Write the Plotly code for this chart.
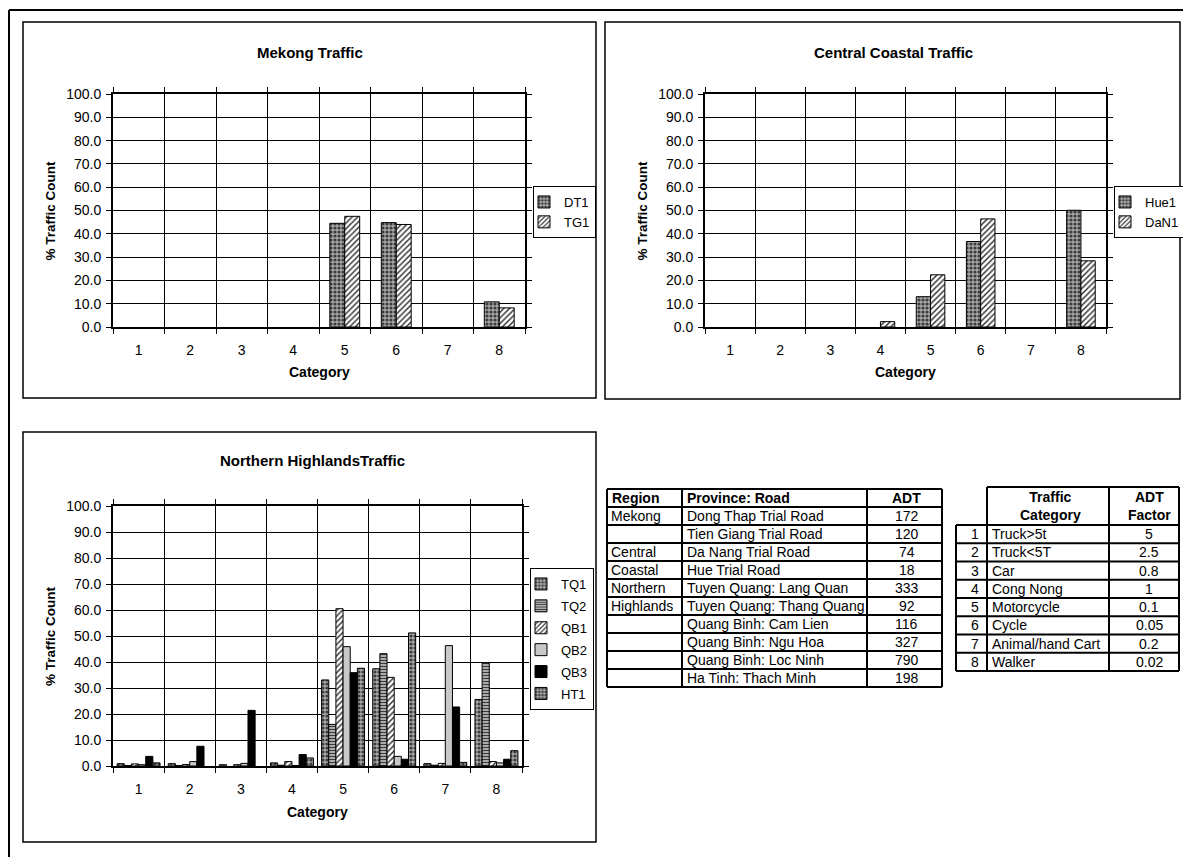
import plotly.graph_objects as go

# page has an 8px body margin; figure is sized/offset so page pixels map 1:1
OFF = 8
W, H = 1191 - OFF, 857 - OFF
FONT = "Liberation Sans, Arial, sans-serif"

# ---------------- data ----------------
categories = ["1", "2", "3", "4", "5", "6", "7", "8"]

mekong_names = ["DT1", "TG1"]
mekong_dt1 = [0, 0, 0, 0, 44.5, 44.8, 0, 10.8]
mekong_tg1 = [0, 0, 0, 0, 47.5, 44.0, 0, 8.2]

central_names = ["Hue1", "DaN1"]
central_hue1 = [0, 0, 0, 0, 13.0, 36.7, 0, 50.1]
central_dan1 = [0, 0, 0, 2.3, 22.4, 46.4, 0, 28.4]

north_names = ["TQ1", "TQ2", "QB1", "QB2", "QB3", "HT1"]
north_tq1 = [0.9, 0.9, 0.5, 1.2, 33.1, 37.4, 0.9, 25.6]
north_tq2 = [0.2, 0.2, 0.0, 0.3, 16.0, 43.2, 0.3, 39.7]
north_qb1 = [0.8, 0.6, 0.5, 1.7, 60.5, 34.1, 1.0, 1.7]
north_qb2 = [0.5, 1.7, 1.0, 0.2, 45.9, 3.7, 46.3, 1.2]
north_qb3 = [3.7, 7.6, 21.4, 4.4, 35.9, 2.6, 22.7, 2.6]
north_ht1 = [1.2, 0.0, 0.0, 3.1, 37.6, 51.2, 1.4, 5.9]

chart_titles = ["Mekong Traffic", "Central Coastal Traffic", "Northern HighlandsTraffic"]
y_title = "% Traffic Count"
x_title = "Category"

road_header = ["Region", "Province: Road", "ADT"]
road_region = ["Mekong", "", "Central", "Coastal", "Northern", "Highlands", "", "", "", ""]
road_names = ["Dong Thap Trial Road", "Tien Giang Trial Road", "Da Nang Trial Road",
              "Hue Trial Road", "Tuyen Quang: Lang Quan", "Tuyen Quang: Thang Quang",
              "Quang Binh: Cam Lien", "Quang Binh: Ngu Hoa", "Quang Binh: Loc Ninh",
              "Ha Tinh: Thach Minh"]
road_adt = ["172", "120", "74", "18", "333", "92", "116", "327", "790", "198"]

cat_header = ["Traffic<br>Category", "ADT<br>Factor"]
cat_num = ["1", "2", "3", "4", "5", "6", "7", "8"]
cat_names = ["Truck>5t", "Truck<5T", "Car", "Cong Nong", "Motorcycle", "Cycle",
             "Animal/hand Cart", "Walker"]
cat_factor = ["5", "2.5", "0.8", "1", "0.1", "0.05", "0.2", "0.02"]

# ---------------- styles ----------------
STY = {
    "dots": dict(color="#9a9a9a", pattern=dict(shape=".", fgcolor="#3c3c3c", bgcolor="#a8a8a8",
                                                size=4, solidity=0.5, fillmode="replace")),
    "hatch": dict(color="#ffffff", pattern=dict(shape="/", fgcolor="#2a2a2a", bgcolor="#ffffff",
                                                 size=4, solidity=0.35, fillmode="replace")),
    "hlines": dict(color="#b8b8b8", pattern=dict(shape="-", fgcolor="#3a3a3a", bgcolor="#b8b8b8",
                                                  size=3, solidity=0.4, fillmode="replace")),
    "lgray": dict(color="#c8c8c8"),
    "black": dict(color="#000000"),
}


def X(px):
    return (px - OFF) / W


def Y(py):
    return 1 - (py - OFF) / H


fig = go.Figure()


def add_group(names, series, styles, xa, ya, legend, group_w):
    n = len(names)
    w = group_w / n
    for i, (nm, vals, st) in enumerate(zip(names, series, styles)):
        mk = dict(line=dict(color="black", width=1))
        mk.update(STY[st])
        # zero counts draw no bar (as in the original chart)
        shown = [v if v else None for v in vals]
        fig.add_trace(go.Bar(
            x=categories, y=shown, name=nm, xaxis=xa, yaxis=ya,
            width=w, offset=-group_w / 2 + i * w,
            marker=mk, legend=legend, legendgroup=legend + nm,
            hovertemplate=nm + " cat %{x}: %{y:.1f}<extra></extra>",
        ))


add_group(mekong_names, [mekong_dt1, mekong_tg1], ["dots", "hatch"], "x", "y", "legend", 0.58)
add_group(central_names, [central_hue1, central_dan1], ["dots", "hatch"], "x2", "y2", "legend2", 0.57)
add_group(north_names, [north_tq1, north_tq2, north_qb1, north_qb2, north_qb3, north_ht1],
          ["dots", "hlines", "hatch", "lgray", "black", "dots"], "x3", "y3", "legend3", 0.84)


def xaxis(dom, anchor):
    return dict(domain=dom, anchor=anchor, type="category", categoryorder="array",
                categoryarray=categories, tickson="boundaries", ticks="outside", ticklen=5,
                tickcolor="black", showgrid=True, gridcolor="#000000", gridwidth=1,
                showline=True, linecolor="black", linewidth=2, mirror="ticks",
                tickfont=dict(family=FONT, size=14, color="black"), zeroline=False,
                fixedrange=True, ticklabelstandoff=9, automargin=False)


def yaxis(dom, anchor):
    return dict(domain=dom, anchor=anchor, range=[0, 100], dtick=10, tick0=0, tickformat=".1f",
                ticks="outside", ticklen=5, tickcolor="black", showgrid=True,
                gridcolor="#000000", gridwidth=1, showline=True, linecolor="black",
                linewidth=2, mirror="ticks", zeroline=False, automargin=False,
                tickfont=dict(family=FONT, size=14, color="black"), fixedrange=True,
                ticklabelstandoff=2)


# plot areas (page pixel boxes)
P1 = (113, 525, 94, 327)
P2 = (705, 1106, 94, 327)
P3 = (113, 522, 506, 766)

fig.update_layout(
    xaxis=xaxis([X(P1[0]), X(P1[1])], "y"),
    yaxis=yaxis([Y(P1[3]), Y(P1[2])], "x"),
    xaxis2=xaxis([X(P2[0]), X(P2[1])], "y2"),
    yaxis2=yaxis([Y(P2[3]), Y(P2[2])], "x2"),
    xaxis3=xaxis([X(P3[0]), X(P3[1])], "y3"),
    yaxis3=yaxis([Y(P3[3]), Y(P3[2])], "x3"),
)

leg_common = dict(xanchor="left", yanchor="top", bordercolor="black", borderwidth=1,
                  bgcolor="white", font=dict(family=FONT, size=13, color="black"),
                  itemwidth=30, indentation=-10, tracegroupgap=0, traceorder="normal")
fig.update_layout(
    legend=dict(x=X(533), y=Y(186), **leg_common),
    legend2=dict(x=X(1114), y=Y(186), **leg_common),
    legend3=dict(x=X(530), y=Y(568), **{**leg_common, "traceorder": "grouped",
                                        "tracegroupgap": 2}),
)

shapes = []
ann = []

# outer frame and chart frames
shapes.append(dict(type="line", xref="paper", yref="paper", x0=X(9), x1=X(9), y0=Y(10), y1=Y(857),
                   line=dict(color="black", width=2), layer="below"))
shapes.append(dict(type="line", xref="paper", yref="paper", x0=X(9), x1=X(1191), y0=Y(10), y1=Y(10),
                   line=dict(color="black", width=2), layer="below"))
for (a, b, c, d) in [(23, 596, 22, 398), (605, 1180, 22, 399), (23, 596, 432, 842)]:
    shapes.append(dict(type="rect", xref="paper", yref="paper", x0=X(a), x1=X(b), y0=Y(d), y1=Y(c),
                       line=dict(color="black", width=1.5), layer="below"))

# chart titles and axis titles
for t, cx, cy, P, xt_y in [(chart_titles[0], 310, 52, P1, 372),
                          (chart_titles[1], 893, 52, P2, 372),
                          (chart_titles[2], 312, 460, P3, 812)]:
    ann.append(dict(text="<b>%s</b>" % t, x=X(cx), y=Y(cy), xref="paper", yref="paper",
                    xanchor="center", yanchor="middle", showarrow=False,
                    font=dict(family=FONT, size=15, color="black")))
    ann.append(dict(text="<b>%s</b>" % x_title, x=X((P[0] + P[1]) / 2), y=Y(xt_y),
                    xref="paper", yref="paper", xanchor="center", yanchor="middle",
                    showarrow=False, font=dict(family=FONT, size=14, color="black")))
    ann.append(dict(text="<b>%s</b>" % y_title, x=X(P[0] - 63), y=Y((P[2] + P[3]) / 2),
                    xref="paper", yref="paper", xanchor="center", yanchor="middle",
                    showarrow=False, textangle=-90,
                    font=dict(family=FONT, size=13.5, color="black")))


def hline(x0, x1, y):
    shapes.append(dict(type="line", xref="paper", yref="paper", x0=X(x0), x1=X(x1), y0=Y(y), y1=Y(y),
                       line=dict(color="black", width=2)))


def vline(x, y0, y1):
    shapes.append(dict(type="line", xref="paper", yref="paper", x0=X(x), x1=X(x), y0=Y(y0), y1=Y(y1),
                       line=dict(color="black", width=2)))


def txt(s, x, y, anchor="left", bold=False, size=14):
    ann.append(dict(text=("<b>%s</b>" % s) if bold else s, x=X(x), y=Y(y), xref="paper",
                    yref="paper", showarrow=False, xanchor=anchor, yanchor="middle",
                    font=dict(family=FONT, size=size, color="black")))


# ---------- table 1 ----------
t1x = [607, 682, 867, 942]
t1top, t1rh = 489, 18.0
nrows1 = len(road_names) + 1
for k in range(nrows1 + 1):
    hline(t1x[0], t1x[-1], t1top + k * t1rh)
for xx in t1x:
    vline(xx, t1top, t1top + nrows1 * t1rh)
hy = t1top + t1rh / 2
txt(road_header[0], t1x[0] + 3, hy, bold=True)
txt(road_header[1], t1x[1] + 3, hy, bold=True)
txt(road_header[2], (t1x[2] + t1x[3]) / 2 + 2, hy, anchor="center", bold=True)
for i in range(len(road_names)):
    yy = t1top + (i + 1.5) * t1rh
    if road_region[i]:
        txt(road_region[i], t1x[0] + 2, yy)
    txt(road_names[i], t1x[1] + 3, yy)
    txt(road_adt[i], (t1x[2] + t1x[3]) / 2 + 2, yy, anchor="center")

# ---------- table 2 ----------
t2x = [956, 987, 1109, 1179]
t2top, t2hdr, t2rh = 487, 525, 18.25
nrows2 = len(cat_names)
t2bot = t2hdr + nrows2 * t2rh
hline(t2x[1], t2x[-1], t2top)
for k in range(nrows2 + 1):
    hline(t2x[0], t2x[-1], t2hdr + k * t2rh)
vline(t2x[0], t2hdr, t2bot)
for xx in t2x[1:]:
    vline(xx, t2top, t2bot)
txt(cat_header[0], (t2x[1] + t2x[2]) / 2 + 2, (t2top + t2hdr) / 2, anchor="center", bold=True)
txt(cat_header[1], (t2x[2] + t2x[3]) / 2 + 5, (t2top + t2hdr) / 2, anchor="center", bold=True)
for i in range(nrows2):
    yy = t2hdr + (i + 0.5) * t2rh
    txt(cat_num[i], (t2x[0] + t2x[1]) / 2 + 3, yy, anchor="center")
    txt(cat_names[i], t2x[1] + 3, yy)
    txt(cat_factor[i], (t2x[2] + t2x[3]) / 2 + 5, yy, anchor="center")

fig.update_layout(
    width=W, height=H, margin=dict(l=0, r=0, t=0, b=0, pad=0, autoexpand=False),
    paper_bgcolor="white", plot_bgcolor="white",
    barmode="overlay", shapes=shapes, annotations=ann,
    font=dict(family=FONT, color="black"), showlegend=True,
)

fig.write_html("out.html")
